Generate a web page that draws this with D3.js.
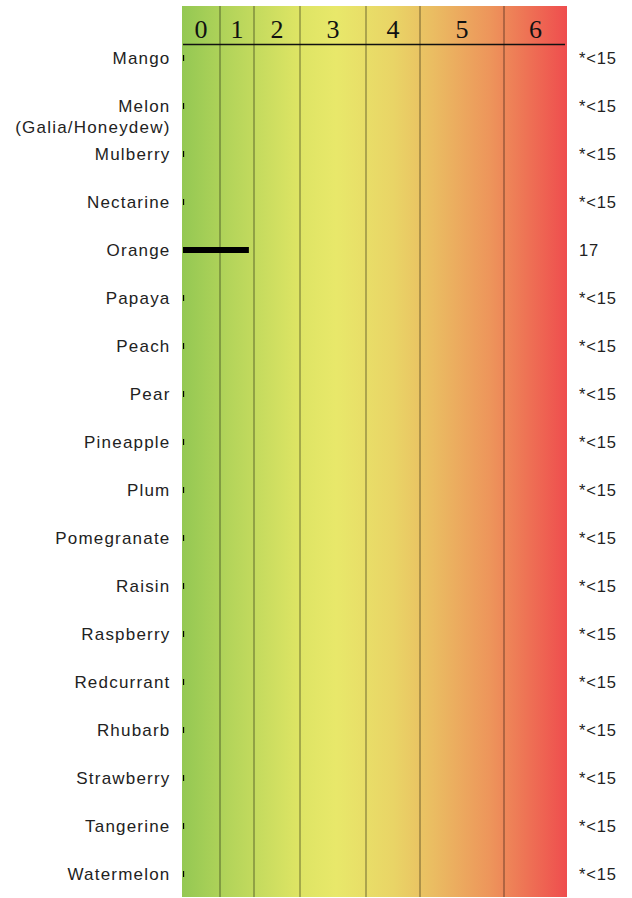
<!DOCTYPE html>
<html>
<head>
<meta charset="utf-8">
<script src="https://cdn.jsdelivr.net/npm/d3@7"></script>
<style>
  body { margin: 0; background: #fff; }
</style>
</head>
<body>
<div id="chart"></div>
<script>
// fruit rows, top to bottom
const fruits = ["Mango", "Melon\n(Galia/Honeydew)", "Mulberry", "Nectarine", "Orange", "Papaya",
  "Peach", "Pear", "Pineapple", "Plum", "Pomegranate", "Raisin", "Raspberry", "Redcurrant",
  "Rhubarb", "Strawberry", "Tangerine", "Watermelon"];
// bar length on the 0-7 band scale
const scores = [0.03, 0.03, 0.03, 0.03, 1.82, 0.03, 0.03, 0.03, 0.03, 0.03, 0.03, 0.03, 0.03,
  0.03, 0.03, 0.03, 0.03, 0.03];
// value printed at the right
const valueLabels = ["*<15", "*<15", "*<15", "*<15", "17", "*<15", "*<15", "*<15", "*<15", "*<15",
  "*<15", "*<15", "*<15", "*<15", "*<15", "*<15", "*<15", "*<15"];
// band edges and header labels
const bandEdges = [0, 1, 2, 3, 4, 5, 6, 7];
const bandLabels = ["0", "1", "2", "3", "4", "5", "6"];

const width = 632, height = 898;
const plotTop = 6, plotBottom = 897;

const svg = d3.select("#chart").append("svg").attr("width", width).attr("height", height);

// bands get wider to the right
const x = d3.scaleLinear()
  .domain(bandEdges)
  .range([182, 220, 254, 300, 366, 420, 504, 567]);

const y = d3.scalePoint().domain(fruits).range([58, 874]);

// background gradient
const grad = svg.append("defs").append("linearGradient")
  .attr("id", "bg").attr("x1", "0%").attr("x2", "100%");
[["0%", "#94c853"], ["12%", "#b3d45a"], ["30%", "#dde464"], ["40%", "#e8e86a"],
 ["55%", "#e9d466"], ["65%", "#eabd62"], ["80%", "#ed955b"], ["100%", "#ef4d4e"]]
  .forEach(([o, c]) => grad.append("stop").attr("offset", o).attr("stop-color", c));

svg.append("rect")
  .attr("x", x(0)).attr("y", plotTop)
  .attr("width", x(7) - x(0)).attr("height", plotBottom - plotTop)
  .attr("fill", "url(#bg)");

// band dividers
svg.selectAll(".divider")
  .data(bandEdges.slice(1, -1))
  .join("line")
  .attr("class", "divider")
  .attr("x1", d => x(d)).attr("x2", d => x(d))
  .attr("y1", plotTop).attr("y2", plotBottom)
  .attr("stroke", "#000").attr("stroke-opacity", 0.35).attr("stroke-width", 1.5);

// header numbers
svg.selectAll(".band-label")
  .data(bandLabels)
  .join("text")
  .attr("class", "band-label")
  .attr("x", (d, i) => (x(i) + x(i + 1)) / 2)
  .attr("y", 38)
  .attr("text-anchor", "middle")
  .style("font-family", "'Liberation Serif', 'Times New Roman', serif")
  .style("font-size", "26px")
  .attr("fill", "#111")
  .text(d => d);

svg.append("line")
  .attr("x1", x(0) + 1).attr("x2", x(7) - 2)
  .attr("y1", 44.5).attr("y2", 44.5)
  .attr("stroke", "#111").attr("stroke-width", 1.3);

// bars
svg.selectAll(".bar")
  .data(fruits)
  .join("rect")
  .attr("class", "bar")
  .attr("x", x(0) + 1)
  .attr("y", d => y(d) - 3)
  .attr("width", (d, i) => x(scores[i]) - x(0))
  .attr("height", 6)
  .attr("fill", "#000");

// row labels
const labels = svg.selectAll(".row-label")
  .data(fruits)
  .join("text")
  .attr("class", "row-label")
  .attr("x", 170.5)
  .attr("y", d => y(d))
  .attr("dy", "0.35em")
  .attr("text-anchor", "end")
  .style("font-family", "'Liberation Sans', Arial, sans-serif")
  .style("font-size", "17px")
  .style("letter-spacing", "1.2px")
  .attr("fill", "#222");

labels.selectAll("tspan")
  .data(d => d.split("\n"))
  .join("tspan")
  .attr("x", 170.5)
  .attr("dy", (d, i) => i === 0 ? null : "21px")
  .text(d => d);

// values on the right
svg.selectAll(".value-label")
  .data(fruits)
  .join("text")
  .attr("class", "value-label")
  .attr("x", 579)
  .attr("y", d => y(d))
  .attr("dy", "0.35em")
  .style("font-family", "'Liberation Sans', Arial, sans-serif")
  .style("font-size", "16.5px")
  .style("letter-spacing", "0.8px")
  .attr("fill", "#222")
  .text((d, i) => valueLabels[i]);
</script>
</body>
</html>
